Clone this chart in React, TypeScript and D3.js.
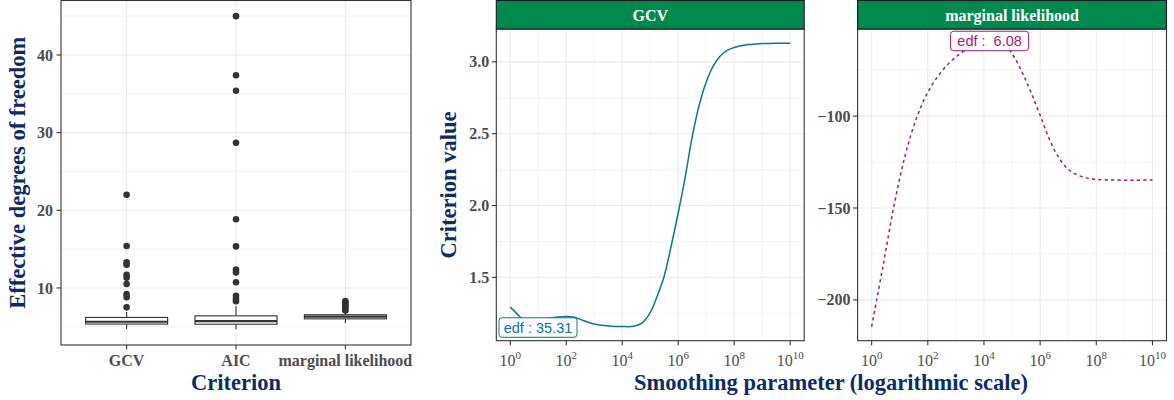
import React from "react";
import * as d3 from "d3";

// ---------- data ----------
const categories = ["GCV", "AIC", "marginal likelihood"];
const boxQ1 = [5.35, 5.33, 6.02];
const boxMedian = [5.65, 5.72, 6.3];
const boxQ3 = [6.2, 6.41, 6.55];
const whiskerLow = [4.7, 4.67, 5.5];
const whiskerHigh = [6.9, 7.65, 6.9];
const outliersGCV = [22.0, 15.4, 13.3, 13.0, 11.7, 11.3, 10.5, 9.2, 8.8, 7.5];
const outliersAIC = [45.0, 37.4, 35.4, 28.7, 18.85, 15.35, 12.36, 12.0, 10.73, 9.0, 8.6, 8.3];
const outliersML = [8.3, 8.1, 7.9, 7.7, 7.5, 7.3, 7.1];
const outliers = [outliersGCV, outliersAIC, outliersML];

const leftYTicks = [10, 20, 30, 40];
const leftYMinor = [5, 15, 25, 35, 45];

// log10(smoothing parameter)
const gcvLogLambda = [0, 0.2, 0.4, 0.7, 1.0, 1.5, 2.0, 2.3, 2.6, 3.0, 3.5, 4.0, 4.4, 4.7, 5.0, 5.25, 5.5, 5.75, 6.0, 6.25, 6.5, 6.75, 7.0, 7.25, 7.5, 7.75, 8.0, 8.5, 9.0, 9.5, 10];
const gcvValue = [1.293, 1.255, 1.217, 1.203, 1.206, 1.22, 1.228, 1.222, 1.2, 1.175, 1.162, 1.158, 1.16, 1.182, 1.255, 1.37, 1.51, 1.72, 1.95, 2.2, 2.48, 2.7, 2.86, 2.97, 3.04, 3.08, 3.1, 3.12, 3.127, 3.13, 3.13];

const mlLogLambda = [0, 0.4, 0.8, 1.2, 1.6, 2.0, 2.4, 2.8, 3.2, 3.6, 4.0, 4.4, 4.8, 5.1, 5.4, 5.7, 6.0, 6.3, 6.6, 6.9, 7.2, 7.6, 8.0, 8.7, 10];
const mlValue = [-214.5, -182, -148.5, -121, -101, -87, -77.5, -70.5, -65.5, -62, -60.3, -60.5, -62.5, -68.5, -77.5, -88, -99.5, -111.5, -121, -127.5, -131, -133.5, -134.4, -134.8, -134.8];

const logTicks = [0, 2, 4, 6, 8, 10];
const logMinor = [1, 3, 5, 7, 9];
const gcvYTicks = [1.5, 2.0, 2.5, 3.0];
const gcvYMinor = [1.25, 1.75, 2.25, 2.75];
const mlYTicks = [-200, -150, -100];
const mlYMinor = [-175, -125, -75];

const gcvLabel = { text: "edf : 35.31", x: 0.99, y: 1.151 };
const mlLabel = { text: "edf :  6.08", x: 4.2, y: -59.1 };

// ---------- styles ----------
const SERIF = "'Liberation Serif', 'Times New Roman', serif";
const SANS = "'Liberation Sans', Arial, sans-serif";
const NAVY = "#0f2b66";
const TICK = "#4d4d4d";
const GRID = "#ebebeb";
const FRAME = "#333333";
const GREEN = "#00894f";
const TEAL = "#0f7396";
const PURPLE = "#a01a7d";

function expand(lo: number, hi: number, f = 0.05): [number, number] {
  const r = hi - lo;
  return [lo - r * f, hi + r * f];
}

function LeftPanel() {
  const x0 = 61, x1 = 411, y0 = 0.5, y1 = 345;
  const allVals = [...whiskerLow, ...outliersGCV, ...outliersAIC, ...outliersML];
  const y = d3.scaleLinear().domain(expand(d3.min(allVals)!, d3.max(allVals)!)).range([y1, y0]);
  const x = d3.scalePoint<string>().domain(categories).range([x0, x1]).padding(0.6);
  const bw = x.step() * 0.75;
  return (
    <g>
      <rect x={x0} y={y0} width={x1 - x0} height={y1 - y0} fill="white" />
      {leftYMinor.map((v) => (
        <line key={"m" + v} x1={x0} x2={x1} y1={y(v)} y2={y(v)} stroke={GRID} strokeWidth={0.6} />
      ))}
      {leftYTicks.map((v) => (
        <line key={"g" + v} x1={x0} x2={x1} y1={y(v)} y2={y(v)} stroke={GRID} strokeWidth={1.1} />
      ))}
      {categories.map((c) => (
        <line key={"gx" + c} x1={x(c)} x2={x(c)} y1={y0} y2={y1} stroke={GRID} strokeWidth={1.1} />
      ))}
      {categories.map((c, i) => {
        const cx = x(c)!;
        return (
          <g key={c}>
            <line x1={cx} x2={cx} y1={y(whiskerLow[i])} y2={y(boxQ1[i])} stroke={FRAME} strokeWidth={1.1} />
            <line x1={cx} x2={cx} y1={y(boxQ3[i])} y2={y(whiskerHigh[i])} stroke={FRAME} strokeWidth={1.1} />
            <rect x={cx - bw / 2} y={y(boxQ3[i])} width={bw} height={y(boxQ1[i]) - y(boxQ3[i])} fill="white" stroke={FRAME} strokeWidth={1.1} />
            <line x1={cx - bw / 2} x2={cx + bw / 2} y1={y(boxMedian[i])} y2={y(boxMedian[i])} stroke={FRAME} strokeWidth={2.2} />
            {outliers[i].map((v, j) => (
              <circle key={j} cx={cx} cy={y(v)} r={3.3} fill={FRAME} />
            ))}
          </g>
        );
      })}
      <rect x={x0} y={y0} width={x1 - x0} height={y1 - y0} fill="none" stroke={FRAME} strokeWidth={1.1} />
      {leftYTicks.map((v) => (
        <g key={"t" + v}>
          <line x1={x0 - 4.5} x2={x0} y1={y(v)} y2={y(v)} stroke={FRAME} strokeWidth={1.1} />
          <text x={x0 - 8} y={y(v)} dy="0.35em" textAnchor="end" fontFamily={SERIF} fontWeight="bold" fontSize={16} fill={TICK}>{v}</text>
        </g>
      ))}
      {categories.map((c) => (
        <g key={"tx" + c}>
          <line x1={x(c)} x2={x(c)} y1={y1} y2={y1 + 4.5} stroke={FRAME} strokeWidth={1.1} />
          <text x={x(c)} y={366} textAnchor="middle" fontFamily={SERIF} fontWeight="bold" fontSize={16} fill={TICK}>{c}</text>
        </g>
      ))}
      <text x={(x0 + x1) / 2} y={390} textAnchor="middle" fontFamily={SERIF} fontWeight="bold" fontSize={22.5} fill={NAVY}>Criterion</text>
      <text transform={`translate(25, ${(y0 + y1) / 2}) rotate(-90)`} textAnchor="middle" fontFamily={SERIF} fontWeight="bold" fontSize={22.5} fill={NAVY}>Effective degrees of freedom</text>
    </g>
  );
}

type FacetProps = {
  x0: number; x1: number; title: string;
  xs: number[]; ys: number[];
  yTicks: number[]; yMinor: number[];
  color: string; dashed: boolean;
  label: { text: string; x: number; y: number };
  fmt: (v: number) => string;
};

function Facet(p: FacetProps) {
  const sy0 = 0.5, sy1 = 29, y0 = 29, y1 = 340.7;
  const x = d3.scaleLinear().domain([-0.5, 10.5]).range([p.x0, p.x1]);
  const y = d3.scaleLinear().domain(expand(d3.min(p.ys)!, d3.max(p.ys)!)).range([y1, y0]);
  const pts = p.xs.map((v, i) => [v, p.ys[i]] as [number, number]);
  const line = d3.line<[number, number]>().x((d) => x(d[0])).y((d) => y(d[1])).curve(d3.curveCatmullRom.alpha(0.5));
  const lx = x(p.label.x), ly = y(p.label.y);
  const boxW = 78, boxH = 19.5;
  return (
    <g>
      <rect x={p.x0} y={y0} width={p.x1 - p.x0} height={y1 - y0} fill="white" />
      {p.yMinor.map((v) => (
        <line key={"ym" + v} x1={p.x0} x2={p.x1} y1={y(v)} y2={y(v)} stroke={GRID} strokeWidth={0.6} />
      ))}
      {logMinor.map((v) => (
        <line key={"xm" + v} x1={x(v)} x2={x(v)} y1={y0} y2={y1} stroke={GRID} strokeWidth={0.6} />
      ))}
      {p.yTicks.map((v) => (
        <line key={"yg" + v} x1={p.x0} x2={p.x1} y1={y(v)} y2={y(v)} stroke={GRID} strokeWidth={1.1} />
      ))}
      {logTicks.map((v) => (
        <line key={"xg" + v} x1={x(v)} x2={x(v)} y1={y0} y2={y1} stroke={GRID} strokeWidth={1.1} />
      ))}
      <path d={line(pts)!} fill="none" stroke={p.color} strokeWidth={1.5} strokeDasharray={p.dashed ? "3.2,3.2" : undefined} />
      <rect x={lx - boxW / 2} y={ly - boxH / 2} width={boxW} height={boxH} rx={3} fill="white" stroke={p.color} strokeWidth={1} />
      <text x={lx} y={ly} dy="0.36em" textAnchor="middle" fontFamily={SANS} fontSize={14.5} fill={p.color} style={{ whiteSpace: "pre" }}>{p.label.text}</text>
      <rect x={p.x0} y={y0} width={p.x1 - p.x0} height={y1 - y0} fill="none" stroke={FRAME} strokeWidth={1.1} />
      <rect x={p.x0} y={sy0} width={p.x1 - p.x0} height={sy1 - sy0} fill={GREEN} stroke="#1a1a1a" strokeWidth={1.1} />
      <text x={(p.x0 + p.x1) / 2} y={20.5} textAnchor="middle" fontFamily={SERIF} fontWeight="bold" fontSize={16} fill="white">{p.title}</text>
      {p.yTicks.map((v) => (
        <g key={"yt" + v}>
          <line x1={p.x0 - 4.5} x2={p.x0} y1={y(v)} y2={y(v)} stroke={FRAME} strokeWidth={1.1} />
          <text x={p.x0 - 7} y={y(v)} dy="0.35em" textAnchor="end" fontFamily={SERIF} fontWeight="bold" fontSize={16} fill={TICK}>{p.fmt(v)}</text>
        </g>
      ))}
      {logTicks.map((v) => (
        <g key={"xt" + v}>
          <line x1={x(v)} x2={x(v)} y1={y1} y2={y1 + 4.5} stroke={FRAME} strokeWidth={1.1} />
          <text x={x(v)} y={366} textAnchor="middle" fontFamily={SERIF} fontSize={16} fill={TICK}>
            <tspan>10</tspan>
            <tspan dy={-7} fontSize={11}>{v}</tspan>
          </text>
        </g>
      ))}
    </g>
  );
}

export default function App() {
  const fmt1 = (v: number) => v.toFixed(1);
  const fmtNeg = (v: number) => (v < 0 ? "\u2212" + Math.abs(v) : String(v));
  return (
    <svg width={1174} height={400} style={{ position: "absolute", left: 0, top: 0, background: "white" }}>
      <rect x={0} y={0} width={1174} height={400} fill="white" />
      <LeftPanel />
      <Facet x0={496.3} x1={804.2} title="GCV" xs={gcvLogLambda} ys={gcvValue} yTicks={gcvYTicks} yMinor={gcvYMinor} color={TEAL} dashed={false} label={gcvLabel} fmt={fmt1} />
      <Facet x0={857.6} x1={1166.5} title="marginal likelihood" xs={mlLogLambda} ys={mlValue} yTicks={mlYTicks} yMinor={mlYMinor} color={PURPLE} dashed={true} label={mlLabel} fmt={fmtNeg} />
      <text transform={`translate(456, 185) rotate(-90)`} textAnchor="middle" fontFamily={SERIF} fontWeight="bold" fontSize={22.5} fill={NAVY}>Criterion value</text>
      <text x={831} y={390} textAnchor="middle" fontFamily={SERIF} fontWeight="bold" fontSize={22.5} fill={NAVY}>Smoothing parameter (logarithmic scale)</text>
    </svg>
  );
}
